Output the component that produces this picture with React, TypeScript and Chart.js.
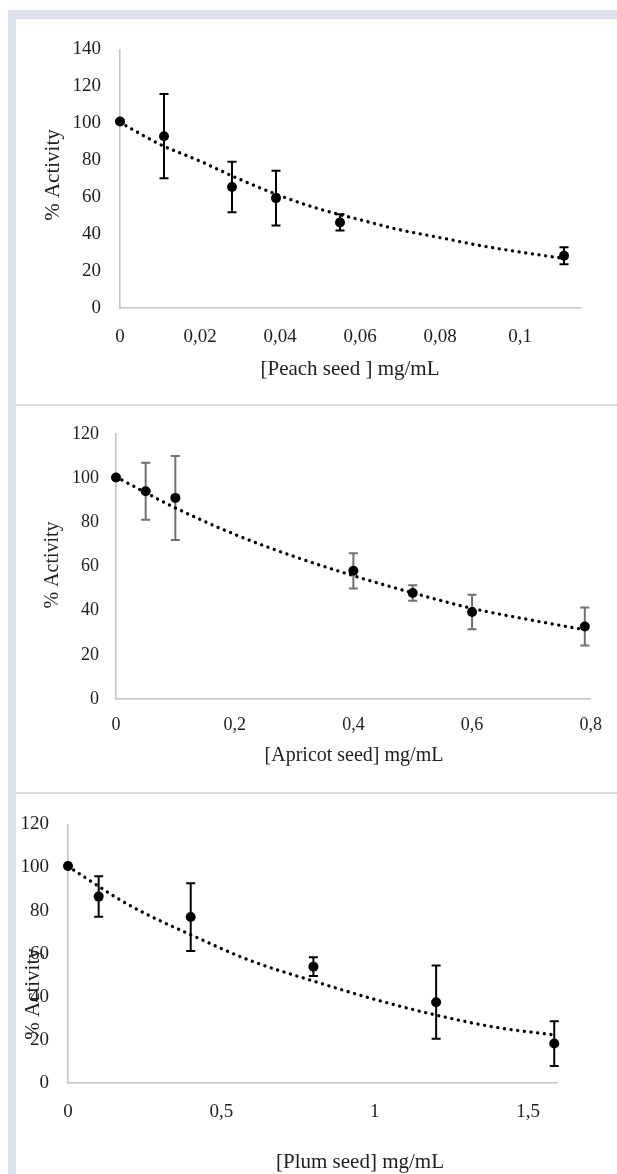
import React, { useEffect, useRef } from "react";
import { Chart, registerables } from "chart.js";

Chart.register(...registerables);

// ---------- Data: Peach seed ----------
const PEACH_X = [0, 0.011, 0.028, 0.039, 0.055, 0.111];
const PEACH_Y = [101, 93, 65.5, 59.5, 46.3, 28.3];
const PEACH_ERR = [0, 22.8, 13.7, 14.8, 4.4, 4.6];
const PEACH_TREND_X = [0, 0.01, 0.02, 0.03, 0.04, 0.05, 0.06, 0.07, 0.08, 0.09, 0.1, 0.111];
const PEACH_TREND_Y = [100.5, 88.6, 79.5, 69.6, 60.8, 53.5, 47.8, 42.3, 38.1, 33.8, 30.3, 26.8];
const PEACH_X_TICKS = [0, 0.02, 0.04, 0.06, 0.08, 0.1];
const PEACH_Y_TICKS = [0, 20, 40, 60, 80, 100, 120, 140];

// ---------- Data: Apricot seed ----------
const APRICOT_X = [0, 0.05, 0.1, 0.4, 0.5, 0.6, 0.79];
const APRICOT_Y = [100.2, 94, 91, 58, 48, 39.4, 32.8];
const APRICOT_ERR = [0, 12.9, 19, 8, 3.5, 7.8, 8.6];
const APRICOT_TREND_X = [0, 0.1, 0.2, 0.3, 0.4, 0.5, 0.6, 0.7, 0.79];
const APRICOT_TREND_Y = [100.5, 86.5, 74.5, 64.5, 55.8, 48, 41, 35.7, 31.3];
const APRICOT_X_TICKS = [0, 0.2, 0.4, 0.6, 0.8];
const APRICOT_Y_TICKS = [0, 20, 40, 60, 80, 100, 120];

// ---------- Data: Plum seed ----------
const PLUM_X = [0, 0.1, 0.4, 0.8, 1.2, 1.585];
const PLUM_Y = [100.7, 86.5, 77, 54, 37.5, 18.3];
const PLUM_ERR = [0, 9.4, 15.7, 4.4, 17, 10.4];
const PLUM_TREND_X = [0, 0.2, 0.4, 0.6, 0.8, 1.0, 1.2, 1.4, 1.585];
const PLUM_TREND_Y = [100.5, 82.5, 68.8, 56.5, 47.3, 38.8, 31.5, 25.7, 22.3];
const PLUM_X_TICKS = [0, 0.5, 1, 1.5];
const PLUM_Y_TICKS = [0, 20, 40, 60, 80, 100, 120];

const SERIF = "'Liberation Serif', 'Times New Roman', serif";
const TEXT_COLOR = "#1e1e1e";
const AXIS_COLOR = "#c4c4c4";

type PanelSpec = {
  xs: number[];
  ys: number[];
  errs: number[];
  trendX: number[];
  trendY: number[];
  xTicks: number[];
  yTicks: number[];
  xMax: number;
  yMax: number;
  xTitle: string;
  yTitle: string;
  canvasTop: number;
  canvasHeight: number;
  padTop: number;
  padRight: number;
  yAxisWidth: number;
  xAxisHeight: number;
  yTickPad: number;
  xTickPad: number;
  tickSize: number;
  titleSize: number;
  xTitlePos: [number, number];
  yTitlePos: [number, number];
  errColor: string;
};

const fmt = (v: number) => String(Math.round(v * 1000) / 1000).replace(".", ",");

function makeErrorBarPlugin(spec: PanelSpec) {
  return {
    id: "errorBars",
    beforeDatasetsDraw(chart: any) {
      const ctx = chart.ctx;
      const xs = chart.scales.x;
      const ysc = chart.scales.y;
      ctx.save();
      ctx.strokeStyle = spec.errColor;
      ctx.lineWidth = 2;
      ctx.lineCap = "butt";
      spec.xs.forEach((xv, i) => {
        const e = spec.errs[i];
        if (!e) return;
        const px = xs.getPixelForValue(xv);
        const top = ysc.getPixelForValue(spec.ys[i] + e);
        const bot = ysc.getPixelForValue(spec.ys[i] - e);
        ctx.beginPath();
        ctx.moveTo(px, top);
        ctx.lineTo(px, bot);
        ctx.moveTo(px - 4.5, top);
        ctx.lineTo(px + 4.5, top);
        ctx.moveTo(px - 4.5, bot);
        ctx.lineTo(px + 4.5, bot);
        ctx.stroke();
      });
      ctx.restore();
    },
  };
}

function makeTitlePlugin(spec: PanelSpec) {
  return {
    id: "axisTitles",
    afterDraw(chart: any) {
      const ctx = chart.ctx;
      ctx.save();
      ctx.fillStyle = TEXT_COLOR;
      ctx.font = `${spec.titleSize}px ${SERIF}`;
      ctx.textAlign = "center";
      ctx.textBaseline = "middle";
      ctx.fillText(spec.xTitle, spec.xTitlePos[0], spec.xTitlePos[1]);
      ctx.translate(spec.yTitlePos[0], spec.yTitlePos[1]);
      ctx.rotate(-Math.PI / 2);
      ctx.fillText(spec.yTitle, 0, 0);
      ctx.restore();
    },
  };
}

const PANELS: PanelSpec[] = [
  {
    xs: PEACH_X, ys: PEACH_Y, errs: PEACH_ERR, trendX: PEACH_TREND_X, trendY: PEACH_TREND_Y,
    xTicks: PEACH_X_TICKS, yTicks: PEACH_Y_TICKS, xMax: 0.115, yMax: 140,
    xTitle: "[Peach seed ] mg/mL", yTitle: "% Activity",
    canvasTop: 19, canvasHeight: 385, padTop: 23, padRight: 37, yAxisWidth: 104, xAxisHeight: 96,
    yTickPad: 19, xTickPad: 18, tickSize: 19, titleSize: 21,
    xTitlePos: [334, 350], yTitlePos: [37, 156], errColor: "#000000",
  },
  {
    xs: APRICOT_X, ys: APRICOT_Y, errs: APRICOT_ERR, trendX: APRICOT_TREND_X, trendY: APRICOT_TREND_Y,
    xTicks: APRICOT_X_TICKS, yTicks: APRICOT_Y_TICKS, xMax: 0.8, yMax: 120,
    xTitle: "[Apricot seed] mg/mL", yTitle: "% Activity",
    canvasTop: 406, canvasHeight: 386, padTop: 22, padRight: 25, yAxisWidth: 100, xAxisHeight: 93,
    yTickPad: 17, xTickPad: 15, tickSize: 18, titleSize: 20,
    xTitlePos: [338, 350], yTitlePos: [37, 159], errColor: "#707070",
  },
  {
    xs: PLUM_X, ys: PLUM_Y, errs: PLUM_ERR, trendX: PLUM_TREND_X, trendY: PLUM_TREND_Y,
    xTicks: PLUM_X_TICKS, yTicks: PLUM_Y_TICKS, xMax: 1.594, yMax: 120,
    xTitle: "[Plum seed] mg/mL", yTitle: "% Activity",
    canvasTop: 794, canvasHeight: 380, padTop: 11, padRight: 60, yAxisWidth: 52, xAxisHeight: 91,
    yTickPad: 19, xTickPad: 18, tickSize: 19, titleSize: 21,
    xTitlePos: [344, 368], yTitlePos: [17, 200], errColor: "#000000",
  },
];

function Panel({ spec }: { spec: PanelSpec }) {
  const ref = useRef<HTMLCanvasElement>(null);
  useEffect(() => {
    if (!ref.current) return;
    const tickFont = { family: SERIF, size: spec.tickSize };
    const chart = new Chart(ref.current, {
      type: "scatter",
      data: {
        datasets: [
          {
            data: spec.xs.map((x, i) => ({ x, y: spec.ys[i] })),
            showLine: false,
            pointRadius: 5,
            pointHoverRadius: 5,
            pointBorderWidth: 0,
            pointBackgroundColor: "#000000",
            pointBorderColor: "#000000",
            clip: false,
          } as any,
          {
            type: "line",
            data: spec.trendX.map((x, i) => ({ x, y: spec.trendY[i] })),
            showLine: true,
            borderColor: "#000000",
            borderWidth: 3.3,
            borderDash: [0.1, 6.6],
            borderCapStyle: "round",
            pointRadius: 0,
            fill: false,
            cubicInterpolationMode: "monotone",
            clip: false,
          } as any,
        ],
      },
      options: {
        animation: false,
        responsive: false,
        maintainAspectRatio: false,
        events: [],
        layout: { padding: { top: spec.padTop, right: spec.padRight, bottom: 0, left: 0 } },
        plugins: { legend: { display: false }, tooltip: { enabled: false } },
        scales: {
          x: {
            type: "linear",
            min: 0,
            max: spec.xMax,
            afterFit: (s: any) => { s.height = spec.xAxisHeight; },
            afterBuildTicks: (s: any) => { s.ticks = spec.xTicks.map((v) => ({ value: v })); },
            ticks: {
              callback: (v: any) => fmt(Number(v)),
              font: tickFont,
              color: TEXT_COLOR,
              padding: spec.xTickPad,
              maxRotation: 0,
              autoSkip: false,
            },
            grid: { display: false, drawTicks: false },
            border: { display: true, color: AXIS_COLOR, width: 1.6 },
          },
          y: {
            type: "linear",
            min: 0,
            max: spec.yMax,
            afterFit: (s: any) => { s.width = spec.yAxisWidth; },
            afterBuildTicks: (s: any) => { s.ticks = spec.yTicks.map((v) => ({ value: v })); },
            ticks: {
              callback: (v: any) => fmt(Number(v)),
              font: tickFont,
              color: TEXT_COLOR,
              padding: spec.yTickPad,
              autoSkip: false,
            },
            grid: { display: false, drawTicks: false },
            border: { display: true, color: AXIS_COLOR, width: 1.6 },
          },
        },
      } as any,
      plugins: [makeErrorBarPlugin(spec), makeTitlePlugin(spec)],
    });
    return () => chart.destroy();
  }, [spec]);
  return (
    <canvas
      ref={ref}
      width={601}
      height={spec.canvasHeight}
      style={{ position: "absolute", left: 16, top: spec.canvasTop, width: 601, height: spec.canvasHeight }}
    />
  );
}

export default function App() {
  return (
    <div style={{ position: "absolute", left: 0, top: 0, width: 617, height: 1174, background: "#ffffff", overflow: "hidden" }}>
      <div style={{ position: "absolute", left: 8, top: 10, right: 0, bottom: 0, background: "#dee1ef" }} />
      <div style={{ position: "absolute", left: 16, top: 18, right: 0, bottom: 0, background: "#ffffff", borderTop: "1px solid #d9d9d9" }} />
      <div style={{ position: "absolute", left: 16, top: 404, right: 0, height: 2, background: "#d9d9d9" }} />
      <div style={{ position: "absolute", left: 16, top: 792, right: 0, height: 2, background: "#d9d9d9" }} />
      {PANELS.map((p, i) => (
        <Panel key={i} spec={p} />
      ))}
    </div>
  );
}
